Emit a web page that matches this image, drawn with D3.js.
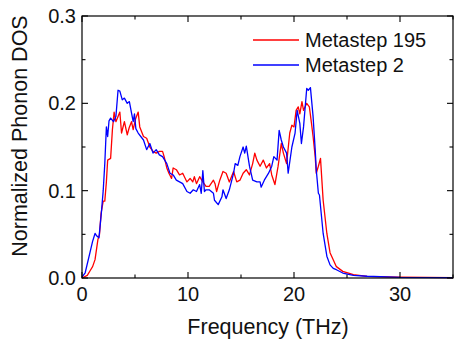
<!DOCTYPE html>
<html><head><meta charset="utf-8">
<script src="https://cdn.jsdelivr.net/npm/d3@7"></script>
<style>html,body{margin:0;padding:0;background:#fff}svg{display:block}</style>
</head><body>
<svg id="c" width="454" height="341"></svg>
<script>
const xTicks = [0, 10, 20, 30];
const yTicks = [0.0, 0.1, 0.2, 0.3];
const seriesNames = ["Metastep 195", "Metastep 2"];
const seriesColors = ["#ff0000", "#0000ff"];
const xTitle = "Frequency (THz)";
const yTitle = "Normalized Phonon DOS";

const redFreq = [0,0.5,0.75,1.0,1.23,1.5,1.65,1.8,2.0,2.15,2.3,2.42,2.7,2.87,3.03,3.2,3.4,3.57,3.73,4.0,4.27,4.45,4.67,4.83,5.05,5.3,5.45,5.8,6.1,6.4,6.7,7.0,7.3,7.6,7.75,8.0,8.2,8.45,8.6,8.9,9.2,9.5,9.9,10.2,10.45,10.6,10.8,11.1,11.4,11.7,12.0,12.4,12.55,12.7,13.0,13.3,13.6,13.9,14.3,14.6,14.9,15.2,15.5,15.8,16.1,16.3,16.5,16.8,17.1,17.4,17.7,17.9,18.2,18.5,18.8,19.0,19.3,19.6,19.8,20.0,20.2,20.4,20.55,20.75,20.9,21.2,21.45,21.65,21.8,22.0,22.1,22.3,22.5,22.75,23.1,23.4,23.7,24.0,24.6,25.6,26.9,30,35];
const redDOS = [0,0.003,0.008,0.013,0.021,0.044,0.05,0.074,0.088,0.088,0.11,0.135,0.137,0.17,0.19,0.179,0.185,0.19,0.166,0.179,0.164,0.172,0.179,0.17,0.182,0.19,0.173,0.162,0.160,0.150,0.145,0.143,0.145,0.145,0.139,0.126,0.12,0.114,0.126,0.124,0.118,0.12,0.110,0.114,0.110,0.116,0.108,0.116,0.110,0.105,0.105,0.112,0.108,0.099,0.112,0.122,0.120,0.110,0.122,0.110,0.112,0.120,0.124,0.118,0.131,0.143,0.135,0.128,0.135,0.126,0.131,0.118,0.107,0.128,0.154,0.143,0.131,0.166,0.175,0.173,0.192,0.196,0.188,0.202,0.192,0.2,0.196,0.177,0.162,0.139,0.120,0.128,0.137,0.089,0.051,0.029,0.021,0.013,0.0076,0.0038,0.0019,0.001,0.0005];

const blueFreq = [0,0.3,0.75,1.0,1.23,1.4,1.6,1.83,2.0,2.15,2.3,2.42,2.55,2.7,2.97,3.2,3.4,3.57,3.8,4.0,4.27,4.47,4.67,4.83,4.95,5.08,5.3,5.8,6.1,6.4,6.7,7.0,7.3,7.6,8.0,8.3,8.6,8.9,9.2,9.5,9.9,10.2,10.5,10.8,11.1,11.25,11.4,11.55,11.7,12.0,12.4,12.5,12.85,13.2,13.3,13.6,13.9,14.3,14.45,14.7,14.9,15.2,15.35,15.5,15.8,16.1,16.5,16.8,16.9,17.2,17.6,17.9,18.1,18.4,18.6,18.8,19.0,19.3,19.45,19.8,20.1,20.3,20.55,20.7,20.9,21.2,21.35,21.55,21.8,22.0,22.1,22.3,22.4,22.75,23.1,23.4,23.7,24.0,24.6,25.6,26.9,30,35];
const blueDOS = [0.001,0.006,0.029,0.042,0.051,0.048,0.046,0.075,0.10,0.131,0.173,0.162,0.18,0.183,0.179,0.185,0.215,0.214,0.204,0.206,0.2,0.202,0.189,0.179,0.188,0.171,0.166,0.158,0.147,0.154,0.143,0.147,0.141,0.139,0.131,0.12,0.118,0.112,0.110,0.108,0.099,0.097,0.101,0.099,0.107,0.097,0.123,0.099,0.101,0.101,0.097,0.089,0.084,0.093,0.101,0.091,0.101,0.120,0.131,0.129,0.139,0.150,0.143,0.151,0.128,0.112,0.110,0.110,0.104,0.112,0.120,0.128,0.139,0.135,0.169,0.158,0.150,0.143,0.120,0.150,0.166,0.192,0.177,0.154,0.173,0.217,0.215,0.218,0.185,0.147,0.124,0.097,0.095,0.051,0.025,0.015,0.011,0.0095,0.0057,0.003,0.002,0.0008,0.0005];

const L = 82, R = 453, T = 16, B = 278;
const svg = d3.select("#c");
const x = d3.scaleLinear().domain([0, 35]).range([L, R]);
const y = d3.scaleLinear().domain([0, 0.3]).range([B, T]);
const font = "'Liberation Sans', Arial, sans-serif";

const line = d3.line().x(d => x(d[0])).y(d => y(d[1]));
const series = [
  d3.zip(redFreq, redDOS),
  d3.zip(blueFreq, blueDOS)
];
series.forEach((s, i) => {
  svg.append("path").datum(s).attr("d", line)
    .attr("fill", "none").attr("stroke", seriesColors[i])
    .attr("stroke-width", 1.3).attr("stroke-linejoin", "round");
});

// frame
svg.append("rect").attr("x", L).attr("y", T).attr("width", R - L).attr("height", B - T)
  .attr("fill", "none").attr("stroke", "#000").attr("stroke-width", 1.2);

// ticks
const xMajor = d3.range(0, 36, 10), xMinor = d3.range(5, 36, 10);
const yMajor = d3.range(0, 0.31, 0.1), yMinor = d3.range(0.05, 0.3, 0.1);
const tk = svg.append("g").attr("stroke", "#000").attr("stroke-width", 1.1);
xMajor.forEach(v => { tk.append("line").attr("x1", x(v)).attr("x2", x(v)).attr("y1", B).attr("y2", B - 6);
  tk.append("line").attr("x1", x(v)).attr("x2", x(v)).attr("y1", T).attr("y2", T + 6); });
xMinor.forEach(v => { tk.append("line").attr("x1", x(v)).attr("x2", x(v)).attr("y1", B).attr("y2", B - 3.5);
  tk.append("line").attr("x1", x(v)).attr("x2", x(v)).attr("y1", T).attr("y2", T + 3.5); });
yMajor.forEach(v => { tk.append("line").attr("x1", L).attr("x2", L + 6).attr("y1", y(v)).attr("y2", y(v));
  tk.append("line").attr("x1", R).attr("x2", R - 6).attr("y1", y(v)).attr("y2", y(v)); });
yMinor.forEach(v => { tk.append("line").attr("x1", L).attr("x2", L + 3.5).attr("y1", y(v)).attr("y2", y(v));
  tk.append("line").attr("x1", R).attr("x2", R - 3.5).attr("y1", y(v)).attr("y2", y(v)); });

// tick labels
svg.selectAll(".xl").data(xTicks).enter().append("text")
  .attr("x", d => x(d)).attr("y", 301).attr("text-anchor", "middle")
  .attr("font-family", font).attr("font-size", 20).attr("fill", "#111").text(d => d);
svg.selectAll(".yl").data(yTicks).enter().append("text")
  .attr("x", 76).attr("y", d => y(d) + 7).attr("text-anchor", "end")
  .attr("font-family", font).attr("font-size", 20).attr("fill", "#111").text(d => d.toFixed(1));

// axis titles
svg.append("text").attr("x", 268).attr("y", 334).attr("text-anchor", "middle")
  .attr("font-family", font).attr("font-size", 21.5).attr("fill", "#111").text(xTitle);
svg.append("text").attr("transform", "translate(27,136) rotate(-90)").attr("text-anchor", "middle")
  .attr("font-family", font).attr("font-size", 21.5).attr("fill", "#111").text(yTitle);

// legend
seriesNames.forEach((n, i) => {
  const ly = 40 + i * 25;
  svg.append("line").attr("x1", 253).attr("x2", 299).attr("y1", ly).attr("y2", ly)
    .attr("stroke", seriesColors[i]).attr("stroke-width", 1.3);
  svg.append("text").attr("x", 305).attr("y", ly + 7).attr("font-family", font)
    .attr("font-size", 20).attr("fill", "#111").text(n);
});
</script>
</body></html>
